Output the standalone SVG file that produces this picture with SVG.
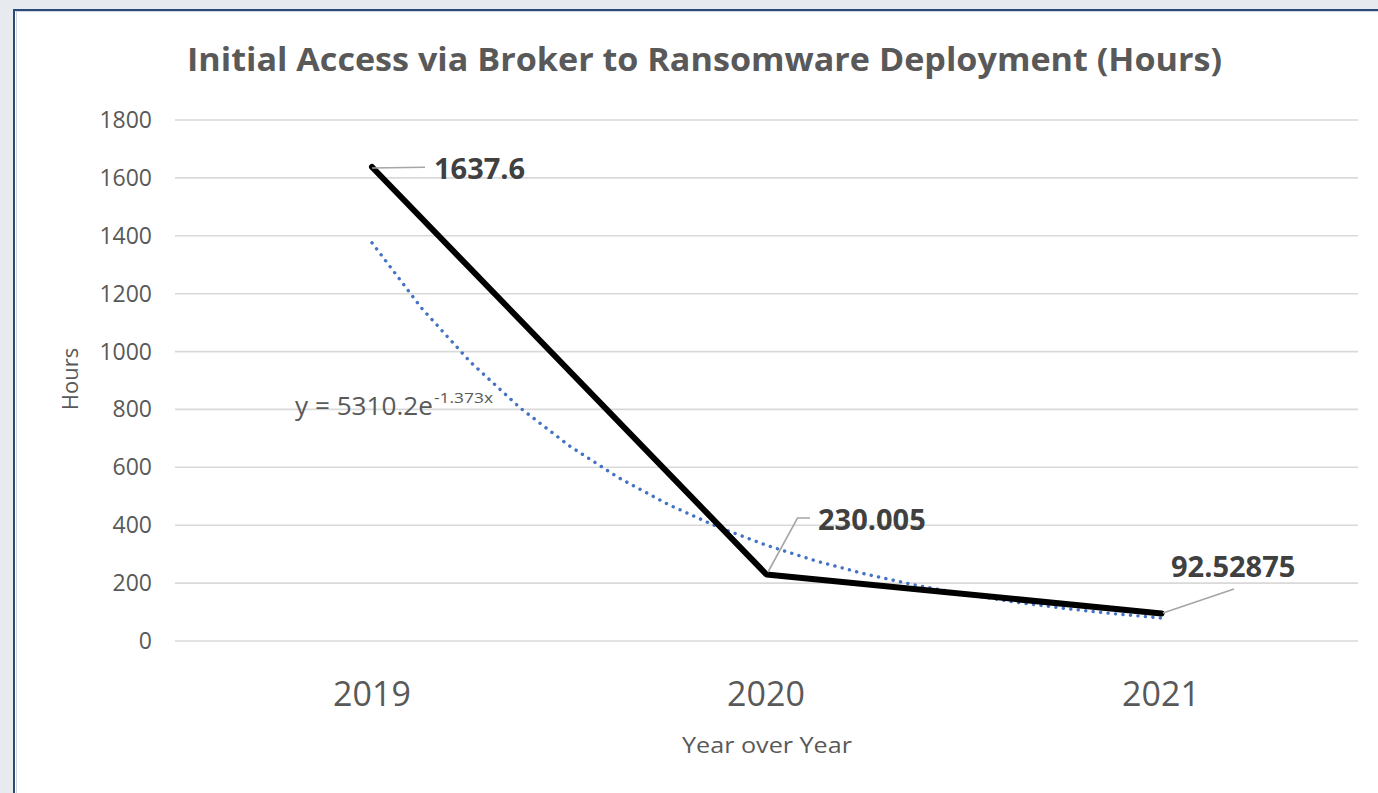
<svg xmlns="http://www.w3.org/2000/svg" width="1378" height="793" viewBox="0 0 1378 793">
  <style>
    .grid { stroke: #d9d9d9; stroke-width: 1.6; }
    .tick { font-family: "Open Sans", "Liberation Sans", sans-serif; font-size: 23px; fill: #595959; text-anchor: end; }
    .cat { font-family: "Open Sans", "Liberation Sans", sans-serif; font-size: 34px; fill: #595959; text-anchor: middle; }
    .axt { font-family: "Open Sans", "Liberation Sans", sans-serif; font-size: 22px; fill: #595959; text-anchor: middle; }
    .dl { font-family: "Open Sans", "Liberation Sans", sans-serif; font-size: 29px; font-weight: bold; fill: #404040; }
    .leader { stroke: #a6a6a6; stroke-width: 1.6; fill: none; }
  </style>
  <rect x="0" y="0" width="1378" height="793" fill="#e7eaee"/>
  <rect x="14" y="10" width="1364" height="783" fill="#ffffff"/>
  <line x1="15.5" y1="11.5" x2="1378" y2="11.5" stroke="#cfd5de" stroke-width="1"/>
  <line x1="16.5" y1="11.5" x2="16.5" y2="793" stroke="#cfd5de" stroke-width="1"/>
  <line x1="13" y1="10" x2="1378" y2="10" stroke="#2c4a78" stroke-width="2"/>
  <line x1="14" y1="9" x2="14" y2="793" stroke="#2c4a78" stroke-width="2"/>

  <g id="title">
    <text x="187" y="71" textLength="1035" lengthAdjust="spacingAndGlyphs" font-family="'Open Sans', 'Liberation Sans', sans-serif" font-size="32" font-weight="bold" fill="#595959">Initial Access via Broker to Ransomware Deployment (Hours)</text>
  </g>

  <g id="gridlines">
    <line class="grid" x1="175" y1="120" x2="1358" y2="120"/>
    <line class="grid" x1="175" y1="177.9" x2="1358" y2="177.9"/>
    <line class="grid" x1="175" y1="235.8" x2="1358" y2="235.8"/>
    <line class="grid" x1="175" y1="293.7" x2="1358" y2="293.7"/>
    <line class="grid" x1="175" y1="351.6" x2="1358" y2="351.6"/>
    <line class="grid" x1="175" y1="409.4" x2="1358" y2="409.4"/>
    <line class="grid" x1="175" y1="467.3" x2="1358" y2="467.3"/>
    <line class="grid" x1="175" y1="525.2" x2="1358" y2="525.2"/>
    <line class="grid" x1="175" y1="583.1" x2="1358" y2="583.1"/>
    <line class="grid" x1="175" y1="641" x2="1358" y2="641"/>
  </g>

  <g id="y-axis">
    <text class="tick" x="152" y="128">1800</text>
    <text class="tick" x="152" y="186">1600</text>
    <text class="tick" x="152" y="244">1400</text>
    <text class="tick" x="152" y="302">1200</text>
    <text class="tick" x="152" y="360">1000</text>
    <text class="tick" x="152" y="417">800</text>
    <text class="tick" x="152" y="475">600</text>
    <text class="tick" x="152" y="533">400</text>
    <text class="tick" x="152" y="591">200</text>
    <text class="tick" x="152" y="649">0</text>
    <text class="axt" x="0" y="0" font-size="22" transform="translate(78 379) rotate(-90)">Hours</text>
  </g>

  <g id="x-axis">
    <text class="cat" x="372" y="706">2019</text>
    <text class="cat" x="766" y="706">2020</text>
    <text class="cat" x="1161" y="706">2021</text>
    <text class="axt" x="767" y="753" textLength="170" lengthAdjust="spacingAndGlyphs" font-size="24">Year over Year</text>
  </g>

  <g id="connectors">
    <polyline id="trendline" fill="none" stroke="#4472c4" stroke-width="3.4" stroke-linecap="round" stroke-dasharray="0.1 7.4"
      points="372,242.8 421.3,307.8 470.6,362.2 519.9,407.7 569.3,445.8 618.6,477.7 667.9,504.3 717.2,526.7 766.5,545.3 815.8,560.9 865.1,574.0 914.4,584.9 963.8,594.1 1013.1,601.8 1062.4,608.2 1111.7,613.5 1161,618"/>
    <polyline id="series" fill="none" stroke="#000000" stroke-width="6" stroke-linecap="round" stroke-linejoin="round" points="372,167 766.5,574.5 1161.5,613.5"/>
    <polyline class="leader" points="372,168 425,167.3"/>
    <polyline class="leader" points="768,572 797.5,518 810,518"/>
    <polyline class="leader" points="1163,613 1234,589"/>
  </g>

  <g id="label-2019">
    <text class="dl" x="434" y="179">1637.6</text>
  </g>
  <g id="label-2020">
    <text class="dl" x="818" y="530">230.005</text>
  </g>
  <g id="label-2021">
    <text class="dl" x="1171" y="577">92.52875</text>
  </g>

  <g id="equation">
    <text x="295" y="415" font-family="'Open Sans', 'Liberation Sans', sans-serif" font-size="25" fill="#595959"><tspan textLength="138" lengthAdjust="spacingAndGlyphs">y = 5310.2e</tspan><tspan x="434" font-size="15" dy="-12" textLength="59" lengthAdjust="spacingAndGlyphs">-1.373x</tspan></text>
  </g>
</svg>
